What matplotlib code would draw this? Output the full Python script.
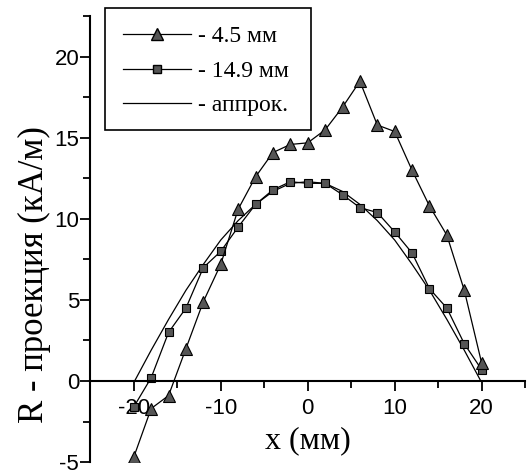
import matplotlib
matplotlib.use("Agg")
import matplotlib.pyplot as plt
from matplotlib.ticker import MultipleLocator
from matplotlib.lines import Line2D
from matplotlib.patches import Rectangle

plt.rcParams["axes.unicode_minus"] = False

# data
x_pts = [-20, -18, -16, -14, -12, -10, -8, -6, -4, -2, 0,
         2, 4, 6, 8, 10, 12, 14, 16, 18, 20]
r_45 = [-4.7, -1.7, -0.9, 2.0, 4.9, 7.2, 10.6, 12.6, 14.1, 14.6, 14.7,
        15.5, 16.9, 18.5, 15.8, 15.4, 13.0, 10.8, 9.0, 5.6, 1.1]
r_149 = [-1.6, 0.2, 3.0, 4.5, 7.0, 8.0, 9.5, 10.9, 11.8, 12.3, 12.2,
         12.2, 11.5, 10.7, 10.4, 9.2, 7.9, 5.7, 4.5, 2.3, 0.7]

x_fit = [-19.9, -18, -16, -14, -12, -10, -8, -6, -4, -2, 0,
         2, 4, 6, 8, 10, 12, 14, 16, 18, 19.9]
r_fit = [0.0, 1.9, 3.8, 5.6, 7.2, 8.7, 9.9, 10.9, 11.7, 12.2, 12.3,
         12.2, 11.7, 10.9, 9.9, 8.7, 7.2, 5.6, 3.8, 1.9, 0.0]

labels = ["- 4.5 мм", "- 14.9 мм", "- аппрок."]

serif = ["Liberation Serif", "DejaVu Serif"]
sans = ["Liberation Sans", "DejaVu Sans"]

fig = plt.figure(figsize=(5.31, 4.76), dpi=100)
ax = fig.add_axes([0.170, 0.0294, 0.819, 0.936])

ax.plot(x_fit, r_fit, color="black", lw=0.9)
ax.plot(x_pts, r_149, color="black", lw=0.9, marker="s", ms=6,
        mfc="#555555", mec="black", mew=0.8)
ax.plot(x_pts, r_45, color="black", lw=0.9, marker="^", ms=8,
        mfc="#555555", mec="black", mew=0.8)

ax.set_xlim(-25, 25)
ax.set_ylim(-5, 22.5)

ax.spines["top"].set_visible(False)
ax.spines["right"].set_visible(False)
ax.spines["bottom"].set_position(("data", 0))
ax.spines["left"].set_linewidth(1.5)
ax.spines["bottom"].set_linewidth(1.5)

ax.xaxis.set_major_locator(MultipleLocator(10))
ax.xaxis.set_minor_locator(MultipleLocator(5))
ax.yaxis.set_major_locator(MultipleLocator(5))
ax.yaxis.set_minor_locator(MultipleLocator(2.5))
ax.tick_params(which="major", length=7, width=1.3, direction="out")
ax.tick_params(which="minor", length=5, width=1.3, direction="out")
ax.tick_params(axis="y", pad=1)
ax.tick_params(axis="x", pad=5)
ax.set_xticks([-20, -10, 0, 10, 20])
for t in ax.get_xticklabels() + ax.get_yticklabels():
    t.set_fontfamily(sans)
    t.set_fontsize(16)

ax.set_ylabel("R - проекция (кА/м)", fontsize=25, family=serif)
ax.yaxis.set_label_coords(-0.09, 0.42)
ax.text(0, -3.7, "x (мм)", fontsize=23, family=serif, ha="center", va="center")

handles = [
    Line2D([], [], color="black", lw=0.9, marker="^", ms=8, mfc="#555555", mec="black"),
    Line2D([], [], color="black", lw=0.9, marker="s", ms=6, mfc="#555555", mec="black"),
    Line2D([], [], color="black", lw=0.9),
]
leg = fig.legend(handles, labels, loc="upper left", bbox_to_anchor=(0.198, 0.983),
                 prop={"family": serif, "size": 17}, frameon=False,
                 handlelength=2.9, handletextpad=0.3, labelspacing=0.55,
                 borderpad=0.75, borderaxespad=0.0)
fig.patches.append(Rectangle((0.198, 0.727), 0.388, 0.256, transform=fig.transFigure,
                             fill=False, edgecolor="black", lw=1.2))

fig.savefig("out.png", dpi=100)
